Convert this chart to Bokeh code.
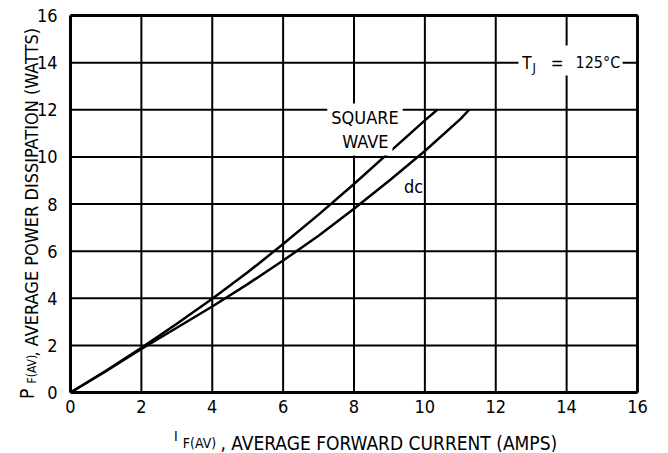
import math
from bokeh.plotting import figure
from bokeh.models import Range1d, Label, FixedTicker, BoxAnnotation
from bokeh.embed import file_html
from bokeh.resources import INLINE

FONT = "DejaVu Sans Condensed"

# ---- data ----
square_x = [0, 1, 2, 3, 4, 5, 6, 7, 8, 9, 10, 10.35]
square_y = [0, 0.92, 1.9, 2.92, 3.98, 5.1, 6.3, 7.55, 8.85, 10.2, 11.55, 12.0]
dc_x = [0, 1, 2, 3, 4, 5, 6, 7, 8, 9, 10, 11, 11.25]
dc_y = [0, 0.9, 1.85, 2.75, 3.65, 4.6, 5.6, 6.65, 7.8, 9.0, 10.25, 11.6, 12.0]
x_ticks = [0, 2, 4, 6, 8, 10, 12, 14, 16]
y_ticks = [0, 2, 4, 6, 8, 10, 12, 14, 16]

# canvas layout: plot area 0..16 spans px 70..637 horizontally, 392..15 vertically
W, H = 664, 452
PX0, PX1, PY0, PY1 = 70.0, 637.0, 392.0, 15.0
sx = (PX1 - PX0) / 16.0
sy = (PY0 - PY1) / 16.0
x_range = Range1d(-PX0 / sx, (W - PX0) / sx)
y_range = Range1d((PY0 - H) / sy, PY0 / sy)

p = figure(width=W, height=H, min_border=0, x_range=x_range, y_range=y_range,
           output_backend="svg", toolbar_location=None)
p.outline_line_color = None
p.grid.visible = False

for ax, ticks in ((p.xaxis, x_ticks), (p.yaxis, y_ticks)):
    ax.fixed_location = 0
    ax.bounds = (ticks[0], ticks[-1])
    ax.ticker = FixedTicker(ticks=ticks)
    ax.axis_line_width = 3
    ax.axis_line_color = "black"
    ax.major_tick_line_color = None
    ax.minor_tick_line_color = None
    ax.major_label_text_font = FONT
    ax.major_label_text_font_size = "18px"
    ax.major_label_text_color = "black"
p.xaxis.major_label_standoff = 1
p.yaxis.major_label_standoff = 7

# grid lines from the tick arrays
xt = x_ticks[1:]
yt = y_ticks[1:]
p.segment(x0=xt, y0=[y_ticks[0]] * len(xt), x1=xt, y1=[y_ticks[-1]] * len(xt),
          line_color="black", line_width=2)
p.segment(x0=[x_ticks[0]] * len(yt), y0=yt, x1=[x_ticks[-1]] * len(yt), y1=yt,
          line_color="black", line_width=2)
# heavier top / right border
p.segment(x0=[x_ticks[0], x_ticks[-1]], y0=[y_ticks[-1], y_ticks[0]],
          x1=[x_ticks[-1], x_ticks[-1]], y1=[y_ticks[-1], y_ticks[-1]],
          line_color="black", line_width=2.8)

p.line(square_x, square_y, line_color="black", line_width=2.5)
p.line(dc_x, dc_y, line_color="black", line_width=2.5)

# curve labels (white background breaks the grid lines)
for txt, x, y in (("SQUARE", 8.31, 11.65), ("WAVE", 8.32, 10.67)):
    p.add_layout(Label(x=x, y=y, text=txt, text_align="center", text_baseline="middle",
                       text_font=FONT, text_font_size="18px", text_color="black",
                       background_fill_color="white", padding=4))
p.add_layout(Label(x=9.68, y=8.74, text="dc", text_align="center", text_baseline="middle",
                   text_font=FONT, text_font_size="18px", text_color="black"))

# T_J = 125°C
p.add_layout(BoxAnnotation(left=12.64, right=15.58, bottom=13.45, top=14.73,
                           fill_color="white", fill_alpha=1.0, line_color=None))
p.add_layout(Label(x=12.75, y=14, text="T", text_align="left", text_baseline="middle",
                   text_font=FONT, text_font_size="17px", text_color="black"))
p.add_layout(Label(x=13.04, y=14, y_offset=-5, text="J", text_align="left", text_baseline="middle",
                   text_font=FONT, text_font_size="13px", text_color="black"))
p.add_layout(Label(x=13.73, y=14, text="=", text_align="center", text_baseline="middle",
                   text_font=FONT, text_font_size="17px", text_color="black"))
p.add_layout(Label(x=14.25, y=14, text="125°C", text_align="left", text_baseline="middle",
                   text_font=FONT, text_font_size="16px", text_color="black"))

# x axis title: I_F(AV), AVERAGE FORWARD CURRENT (AMPS)
p.add_layout(Label(x=2.92, y=-1.825, text="I", text_align="left", text_baseline="alphabetic",
                   text_font=FONT, text_font_size="14px", text_color="black"))
p.add_layout(Label(x=3.17, y=-2.143, text="F(AV)", text_align="left", text_baseline="alphabetic",
                   text_font=FONT, text_font_size="14px", text_color="black"))
p.add_layout(Label(x=4.23, y=-2.143, text=", AVERAGE FORWARD CURRENT (AMPS)", text_align="left",
                   text_baseline="alphabetic", text_font=FONT, text_font_size="19px",
                   text_color="black"))

# y axis title: P_F(AV), AVERAGE POWER DISSIPATION (WATTS)
a = math.pi / 2
p.add_layout(Label(x=-1.2415, y=-0.28, text="P", angle=a, text_align="left",
                   text_baseline="alphabetic", text_font=FONT, text_font_size="19px",
                   text_color="black"))
p.add_layout(Label(x=-1.1005, y=0.38, text="F(AV)", angle=a, text_align="left",
                   text_baseline="alphabetic", text_font=FONT, text_font_size="12px",
                   text_color="black"))
p.add_layout(Label(x=-1.1005, y=1.53, text=", AVERAGE POWER DISSIPATION (WATTS)", angle=a,
                   text_align="left", text_baseline="alphabetic", text_font=FONT,
                   text_font_size="18px", text_color="black"))

open("out.html", "w").write(file_html(p, INLINE))
